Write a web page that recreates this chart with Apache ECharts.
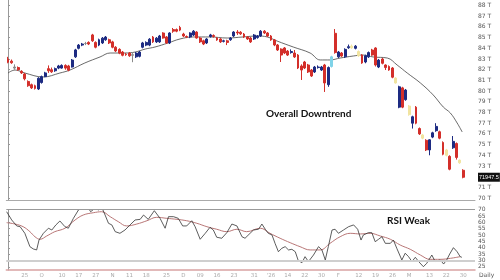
<!DOCTYPE html>
<html><head><meta charset="utf-8">
<script src="https://cdn.jsdelivr.net/npm/echarts@6/dist/echarts.min.js"></script>
<style>html,body{margin:0;padding:0;background:#fff}#c{width:500px;height:280px}</style>
</head><body><div id="c"></div>
<script>
// OHLC in thousands: [open, close, low, high]
const candles = [
[83.0,82.7,82.6,83.2],[82.8,82.65,82.55,82.95],[82.25,82.15,82.0,82.5],[82.2,82.0,81.9,82.3],
[81.85,81.7,81.6,81.95],[81.6,81.15,81.0,81.7],[80.9,80.5,80.4,81.0],[80.6,80.3,80.2,80.7],
[80.5,80.25,80.15,80.6],[80.2,81.2,80.1,81.3],[80.8,81.35,80.7,81.45],[81.35,81.7,81.3,81.8],
[82.1,81.9,81.7,82.4],[82.0,81.8,81.7,82.2],[81.9,82.1,81.8,82.2],[82.15,82.35,82.05,82.45],
[82.15,82.4,82.1,82.5],[82.4,82.15,82.0,82.5],[82.35,81.95,81.85,82.45],[82.25,82.9,82.2,83.0],
[83.2,83.85,83.1,83.95],[84.0,84.3,83.9,84.4],[84.3,84.4,84.2,84.5],[84.45,84.45,84.3,84.6],
[84.55,84.4,84.3,84.65],[85.25,84.7,84.6,85.35],[84.55,84.1,84.0,84.65],[84.3,84.8,84.2,84.9],
[84.5,84.95,84.4,85.05],[84.8,85.05,84.7,85.15],[84.8,84.5,84.4,84.9],[84.6,84.1,84.0,84.7],
[84.1,83.75,83.65,84.2],[83.9,83.55,83.45,84.0],[83.65,83.35,83.25,83.75],[83.45,83.4,83.3,83.55],
[83.55,83.3,83.2,83.65],[83.4,83.35,82.7,83.55],[83.2,83.55,83.1,83.65],[83.25,83.65,83.15,83.75],
[84.1,84.5,84.0,84.6],[84.3,84.55,84.2,84.65],[84.3,84.85,84.2,84.95],[85.05,84.6,84.5,85.15],
[84.6,84.95,84.5,85.05],[84.6,85.15,84.5,85.25],[85.43,84.96,84.9,85.5],[85.06,84.5,84.4,85.15],
[84.5,85.43,84.4,85.5],[85.75,85.6,85.45,85.9],[85.75,85.6,85.5,85.85],[85.95,85.7,85.6,86.1],
[85.33,85.15,85.05,85.45],[85.1,85.05,84.95,85.2],[85.06,85.43,84.95,85.5],[85.24,85.6,85.15,85.7],
[85.52,84.96,84.9,85.6],[84.96,84.6,84.5,85.05],[84.7,84.4,84.3,84.8],[84.5,84.87,84.4,84.95],
[85.1,85.25,85.0,85.35],[85.2,85.1,85.0,85.3],[84.96,84.78,84.7,85.05],[84.87,84.6,84.5,84.95],
[84.65,84.7,84.55,84.8],[84.7,84.55,84.3,84.8],[84.8,84.96,84.7,85.05],[85.15,85.52,85.05,85.6],
[85.52,85.43,85.25,85.7],[85.5,85.35,85.25,85.6],[85.33,85.06,84.96,85.43],[85.06,84.87,84.78,85.15],
[84.96,84.6,84.5,85.06],[84.87,85.24,84.78,85.33],[85.0,85.15,84.9,85.24],[85.15,85.6,85.06,85.7],
[85.6,85.43,85.33,85.7],[85.43,85.15,85.06,85.52],[85.15,84.78,84.7,85.24],[84.78,84.31,84.2,84.87],
[84.31,83.84,83.75,84.4],[83.93,83.37,82.72,84.0],[84.03,83.56,83.46,84.12],[83.74,83.37,83.28,83.84],
[83.6,83.7,83.5,83.9],[83.56,83.19,83.1,83.84],[83.37,82.16,82.06,83.46],[82.35,81.97,81.04,82.5],
[82.72,82.16,82.06,82.82],[82.44,81.79,81.69,82.54],[81.97,81.41,81.32,82.06],[81.79,82.25,81.69,82.35],
[82.2,82.25,82.1,82.4],[81.97,82.25,81.88,82.35],
[82.44,80.76,79.92,82.54],[80.6,82.2,80.4,82.3],[82.3,83.2,82.2,83.3],[85.4,83.6,83.5,85.8],
[83.2,83.65,83.1,83.75],[83.56,83.28,83.2,83.65],[83.2,83.9,83.1,84.0],[84.05,84.15,83.95,84.35],
[84.2,84.05,83.95,84.35],[84.0,84.2,83.9,84.3],[83.7,83.3,83.2,83.8],[83.37,82.63,82.55,83.45],
[82.72,83.3,82.6,83.4],[83.2,83.6,83.1,83.7],[83.84,83.37,83.3,83.95],[84.03,82.44,82.3,84.1],
[82.25,82.9,82.15,83.0],[83.0,82.6,82.5,83.1],[82.44,82.2,81.97,82.5],[82.3,81.97,81.9,82.4],
[82.16,81.3,81.2,82.25],[81.22,80.76,80.7,81.3],[78.5,80.4,78.4,80.5],[80.3,78.5,78.4,80.4],
[79.2,80.1,79.1,80.2],[78.6,77.8,77.7,78.7],[77.0,77.6,76.5,77.7],[78.5,77.0,76.9,78.6],
[76.5,76.0,75.9,76.6],[75.9,75.6,75.5,76.0],[75.4,74.5,74.4,75.5],[74.5,75.45,74.0,75.5],
[75.7,76.1,75.6,76.2],[76.3,76.7,76.2,77.0],[76.2,75.6,75.5,76.3],[75.2,74.1,74.0,75.3],
[74.5,74.0,73.9,74.6],[73.9,72.7,72.6,74.0],[74.7,75.3,74.6,75.8],[75.1,73.8,73.6,75.2],
[73.55,73.3,73.2,73.6],[72.6,71.9475,71.85,72.7]
];
const blankSlots = 3;

// 20-period moving average: candle index, value (thousands)
const maIdx = [0,2.1,5,10.4,15.4,18.4,22.8,27.3,30.3,34.7,37.7,40.7,43.6,47.5,51,54.9,59.9,65,69.7,73.9,76.9,79.8,84.6,89.6,92.6,95.5,98.5,102.4,105.3,108.3,112.5,115.4,118.4,122.3,126.1,129.1,131.2,133.2,134.7];
const maVal = [81.69,81.97,81.69,81.32,81.69,81.97,82.63,83.19,83.56,83.56,83.65,83.93,84.12,84.5,84.87,85.06,85.06,84.96,85.06,85.15,85.06,84.68,84.12,83.56,82.91,82.91,83.09,83.28,83.37,83.19,83.09,82.44,81.69,80.76,79.64,78.51,77.95,77.02,76.18];

// RSI line
const rsiIdx = [-0.4,1.1,2.6,3.6,5.0,6.5,7.5,8.5,9.2,10.5,12.0,13.0,14.2,15.4,16.9,17.9,19.4,20.9,22.3,23.5,24.5,25.8,26.8,27.8,28.8,29.8,30.8,31.8,33.2,34.7,36.2,37.7,39.2,40.2,41.6,43.4,45.1,46.6,47.6,49.1,50.5,51.8,53.0,54.5,55.5,57.0,58.5,59.9,60.9,61.9,63.4,64.9,66.4,67.9,69.4,70.3,71.8,72.8,74.3,75.3,76.3,77.2,78.3,79.2,80.2,81.2,82.2,83.2,84.2,85.2,86.1,87.2,88.1,89.1,90.6,92.1,93.1,94.1,95.0,96.1,97.0,98.0,99.5,101.0,102.5,103.7,104.7,105.4,106.9,107.9,108.9,109.9,110.9,111.9,113.4,114.3,115.3,116.8,117.8,118.8,119.8,120.8,121.8,123.2,124.2,125.7,126.7,128.2,129.2,130.2,131.0,132.1,133.2,134.1,134.6];
const rsiVal = [68.4,61.9,57.2,56.6,51.4,40.9,39.1,38.3,46.1,51.4,55.4,54.0,58.0,61.1,56.6,55.4,63.2,69.8,72.9,73.1,68.4,71.1,69.8,71.9,65.8,59.3,58.0,52.7,51.4,54.0,58.0,61.9,62.4,65.8,62.4,69.2,63.2,55.4,64.5,64.5,63.2,57.2,57.2,61.3,56.6,46.7,51.4,56.1,54.0,48.3,47.5,51.9,58.7,57.2,48.7,47.5,51.4,54.0,54.6,58.7,54.6,51.4,50.1,43.5,36.9,39.6,40.9,38.3,38.8,36.9,29.8,28.3,33.0,29.1,34.3,40.9,38.3,30.4,40.9,54.0,54.6,51.4,54.0,56.6,58.0,54.6,46.1,50.1,51.9,51.9,44.8,46.7,48.7,43.5,43.5,46.1,39.6,30.4,35.7,33.0,29.1,32.5,29.1,25.1,27.8,34.3,29.1,30.4,27.2,30.9,35.1,40.1,36.9,33.0,32.5];

// RSI signal (smoothed)
const sigIdx = [-0.4,2.1,4.5,6.5,8.0,9.5,11.5,13.9,16.9,19.9,22.3,25.3,27.8,30.3,32.7,35.2,38.2,41.2,44.1,47.1,50.1,53.0,56.0,59.0,61.9,64.9,67.9,70.8,74.8,77.7,80.7,83.7,86.6,89.6,92.6,95.5,98.5,101.5,104.5,107.4,110.4,113.4,116.3,119.3,122.3,125.2,128.2,131.2,134.1];
const sigVal = [59.8,58.7,56.6,52.7,48.7,46.7,49.3,52.7,55.4,61.9,65.8,67.6,68.4,64.5,60.6,57.2,58.7,61.3,64.0,63.2,62.4,61.3,59.3,56.6,54.6,52.7,54.6,52.7,55.4,51.4,47.5,44.0,40.9,38.3,38.3,43.5,48.7,51.4,50.9,51.4,49.3,46.7,42.2,38.8,34.3,30.9,30.9,31.7,33.0];

const priceTicks = [70,71,72,73,74,75,76,77,78,79,80,81,82,83,84,85,86,87,88];
const rsiTicks = [25,30,35,40,45,50,55,60,65,70];
const rsiLevels = [70, 30];
const dateTickIdx = [5,10,16,21,26,31,36,41,47,52,57,62,67,73,78,83,88,93,98,104,109,114,119,125,130,135];
const dateTickLabels = ["25","O","10","17","27","N","11","18","25","D","09","16","23","31","'26","14","22","30","F","12","19","26","M","13","22","30"];
const lastPrice = 71947.5;

// style-only highlight lists
const paleCandles = [102,104,115,119,123,130,134];
const cyanCandles = [96];
const grayCandles = [2,23,37];

const UP='#1d2b82', DOWN='#d32f2a';
const nCat = candles.length + blankSlots;
const cats = Array.from({length:nCat},(_,i)=>String(i));
const candleData = candles.map((c,i)=>{
  let col=null;
  if (paleCandles.includes(i)) col='#f1e4a0';
  else if (cyanCandles.includes(i)) col='#7fd3e8';
  else if (grayCandles.includes(i)) col='#8a8a8a';
  return col ? {value:c, itemStyle:{color:col,color0:col,borderColor:col,borderColor0:col}} : c;
});
const zip=(a,b)=>a.map((x,i)=>[x,b[i]]);
const lastClose = candles[candles.length-1][1];

const chart = echarts.init(document.getElementById('c'), null, {renderer:'canvas'});
chart.setOption({
  animation:false,
  backgroundColor:'#fff',
  grid:[
    {left:6.3, right:25, top:0, height:200},
    {left:6.3, right:25, top:209.7, height:60.3}
  ],
  xAxis:[
    {type:'category', gridIndex:0, data:cats, boundaryGap:true,
     axisLine:{lineStyle:{color:'#aaa',width:1}}, axisTick:{show:false}, axisLabel:{show:false}, splitLine:{show:false}},
    {type:'value', gridIndex:0, min:-0.5, max:nCat-0.5, show:false},
    {type:'category', gridIndex:1, data:cats, boundaryGap:true,
     axisLine:{lineStyle:{color:'#d9a3a3',width:1.5}}, axisTick:{show:false},
     axisLabel:{interval:(i)=>dateTickIdx.includes(i), formatter:(v,i)=>{const j=dateTickIdx.indexOf(i);return j>=0?dateTickLabels[j]:'';},
       fontSize:5.5, color:'#aaa', margin:3, fontFamily:'DejaVu Sans'}, splitLine:{show:false}},
    {type:'value', gridIndex:1, min:-0.5, max:nCat-0.5, show:false}
  ],
  yAxis:[
    {type:'value', gridIndex:0, position:'right', min:69.822, max:88.514, scale:true,
     axisLine:{show:true, lineStyle:{color:'#999'}}, axisTick:{show:true, length:2, customValues:priceTicks, lineStyle:{color:'#999'}},
     axisLabel:{customValues:priceTicks, formatter:(v)=>v+' T', fontSize:6, color:'#555', margin:3, fontFamily:'DejaVu Sans'},
     splitLine:{show:false}},
    {type:'value', gridIndex:1, position:'right', min:22.5, max:70,
     axisLine:{show:true, lineStyle:{color:'#999'}}, axisTick:{show:true, length:2, customValues:rsiTicks, lineStyle:{color:'#999'}},
     axisLabel:{customValues:rsiTicks, fontSize:6, color:'#555', margin:3, fontFamily:'DejaVu Sans'},
     splitLine:{show:false}}
  ],
  series:[
    {type:'candlestick', xAxisIndex:0, yAxisIndex:0, data:candleData, barWidth:2.4, z:3,
     itemStyle:{color:UP, color0:DOWN, borderColor:UP, borderColor0:DOWN, borderWidth:1},
     markLine:{silent:true, symbol:'none', z:10, data:[{yAxis:lastClose}], lineStyle:{color:'rgba(255,255,255,0)', width:1, type:'solid'},
       label:{show:true, position:'end', distance:3, formatter:String(lastPrice), backgroundColor:'#111', color:'#fff', fontSize:5.5, padding:[2,1,1,1], fontFamily:'Liberation Sans'}}},
    {type:'line', xAxisIndex:1, yAxisIndex:0, data:zip(maIdx,maVal), smooth:0.4, symbol:'none',
     lineStyle:{color:'#444', width:0.8}},
    {type:'line', xAxisIndex:3, yAxisIndex:1, data:zip(sigIdx,sigVal), smooth:0.4, symbol:'none',
     lineStyle:{color:'#b97777', width:1},
     markLine:{silent:true, symbol:'none', label:{show:false},
       data:[{yAxis:rsiLevels[0], lineStyle:{color:'#9a9a9a', width:1, type:'solid'}},
             {yAxis:rsiLevels[1], lineStyle:{color:'#cfcfcf', width:2, type:'solid'}}]}},
    {type:'line', xAxisIndex:3, yAxisIndex:1, data:zip(rsiIdx,rsiVal), symbol:'none',
     lineStyle:{color:'#333', width:0.8}}
  ],
  graphic:[
    {type:'text', left:266, top:109, style:{text:'Overall Downtrend', font:'bold 10px Lato', fill:'#111'}},
    {type:'text', left:387, top:216, style:{text:'RSI Weak', font:'bold 10px Lato', fill:'#111'}},
    {type:'text', left:479, top:272, style:{text:'Daily', font:'6px "DejaVu Sans"', fill:'#555'}}
  ]
});
</script></body></html>
